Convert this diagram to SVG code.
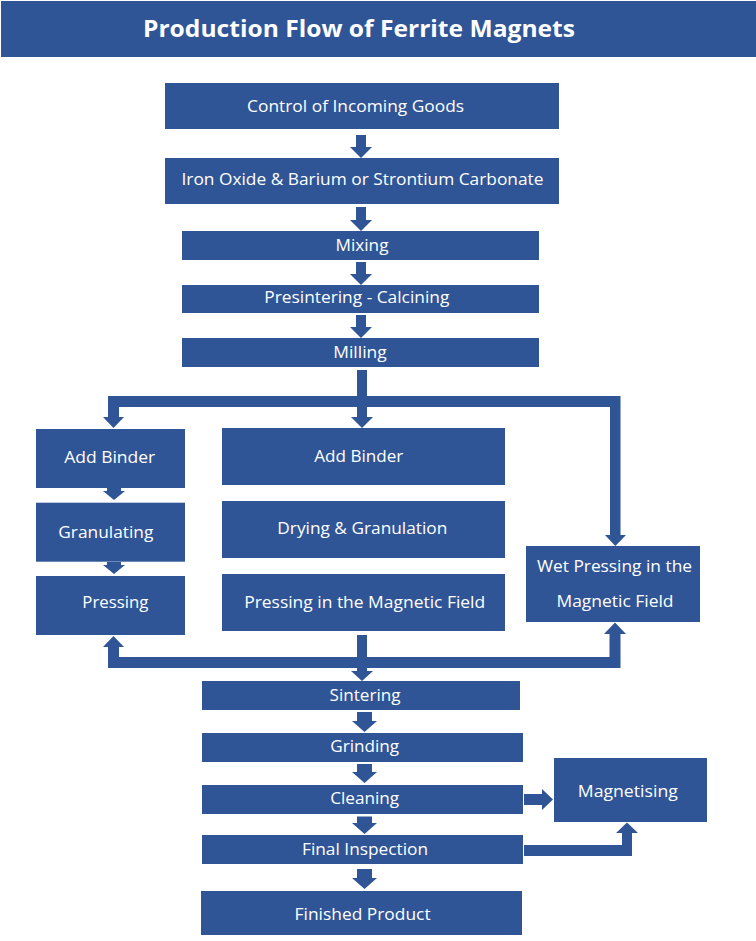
<svg xmlns="http://www.w3.org/2000/svg" width="756" height="941" viewBox="0 0 756 941">
<style>
.box{fill:#2F5597}
.con{fill:#2F5597}
.t{fill:#ffffff;font-family:"Open Sans","Noto Sans","Liberation Sans",sans-serif;font-size:17px;text-anchor:middle}
.title{fill:#ffffff;font-family:"Open Sans","Noto Sans","Liberation Sans",sans-serif;font-size:24px;font-weight:bold;text-anchor:middle}
</style>
<rect x="0" y="0" width="756" height="941" fill="#ffffff"/>
<g id="title">
<rect class="box" x="1" y="1" width="755" height="56"/>
<text class="title" x="359" y="36.5" textLength="432" lengthAdjust="spacingAndGlyphs">Production Flow of Ferrite Magnets</text>
</g>
<g id="connectors">
<polygon class="con" points="356,135 366,135 366,147 372,147 361,158 350,147 356,147"/>
<polygon class="con" points="356,207 366,207 366,220 372,220 361,231 350,220 356,220"/>
<polygon class="con" points="356,262 366,262 366,274 372,274 361,285 350,274 356,274"/>
<polygon class="con" points="356,315 366,315 366,327 372,327 361,338 350,327 356,327"/>
<polygon class="con" points="357,370 367,370 367,417 373,417 362,428 351,417 357,417"/>
<rect class="con" x="108" y="396" width="512.5" height="11"/>
<polygon class="con" points="108,407 119,407 119,417 124,417 113.5,428 103,417 108,417"/>
<polygon class="con" points="610,407 620.5,407 620.5,535 626,535 615.3,546 605,535 610,535"/>
<polygon class="con" points="107,488 121,488 121,491 125,491 114,500 103,491 107,491"/>
<polygon class="con" points="107,562 121,562 121,565 125,565 114,574 103,565 107,565"/>
<polygon class="con" points="357,635 367,635 367,671 373,671 362,681 351,671 357,671"/>
<rect class="con" x="108" y="657" width="512.5" height="11"/>
<polygon class="con" points="108,657 119,657 119,647 124,647 113.5,636 103,647 108,647"/>
<polygon class="con" points="609.5,657 620.5,657 620.5,634 626,634 615,622.5 604,634 609.5,634"/>
<polygon class="con" points="357,712 372,712 372,721 377,721 364.5,732 352,721 357,721"/>
<polygon class="con" points="357,764 372,764 372,772 377,772 364.5,783 352,772 357,772"/>
<polygon class="con" points="357,816.5 372,816.5 372,823 377,823 364.5,834 352,823 357,823"/>
<polygon class="con" points="357,869 372,869 372,878 377,878 364.5,889 352,878 357,878"/>
<polygon class="con" points="524,794 542,794 542,789 553,799.5 542,810 542,805 524,805"/>
<polygon class="con" points="524,845 622,845 622,833 616,833 627,822.5 638,833 632,833 632,856 524,856"/>
</g>
<g id="n1"><rect class="box" x="165" y="83" width="394" height="46"/><text class="t" x="355.6" y="111.7" textLength="217" lengthAdjust="spacingAndGlyphs">Control of Incoming Goods</text></g>
<g id="n2"><rect class="box" x="165" y="158" width="394" height="46"/><text class="t" x="362.5" y="185" textLength="362" lengthAdjust="spacingAndGlyphs">Iron Oxide &amp; Barium or Strontium Carbonate</text></g>
<g id="n3"><rect class="box" x="182" y="231" width="357" height="29"/><text class="t" x="362" y="251" textLength="53" lengthAdjust="spacingAndGlyphs">Mixing</text></g>
<g id="n4"><rect class="box" x="182" y="285" width="357" height="28"/><text class="t" x="356.8" y="303.3" textLength="185" lengthAdjust="spacingAndGlyphs">Presintering - Calcining</text></g>
<g id="n5"><rect class="box" x="182" y="338" width="357" height="29"/><text class="t" x="360" y="358.3" textLength="53.4" lengthAdjust="spacingAndGlyphs">Milling</text></g>
<g id="n6"><rect class="box" x="36" y="429" width="149" height="59"/><text class="t" x="109.7" y="462.7" textLength="91" lengthAdjust="spacingAndGlyphs">Add Binder</text></g>
<g id="n7"><rect class="box" x="36" y="502.7" width="149" height="59"/><text class="t" x="105.8" y="538.3" textLength="95" lengthAdjust="spacingAndGlyphs">Granulating</text></g>
<g id="n8"><rect class="box" x="36" y="576" width="149" height="59"/><text class="t" x="115.3" y="608.3" textLength="66" lengthAdjust="spacingAndGlyphs">Pressing</text></g>
<g id="n9"><rect class="box" x="222" y="428" width="283" height="57"/><text class="t" x="358.8" y="461.7" textLength="89" lengthAdjust="spacingAndGlyphs">Add Binder</text></g>
<g id="n10"><rect class="box" x="222" y="501" width="283" height="57"/><text class="t" x="362.3" y="534" textLength="170" lengthAdjust="spacingAndGlyphs">Drying &amp; Granulation</text></g>
<g id="n11"><rect class="box" x="222" y="574" width="283" height="57"/><text class="t" x="364.7" y="607.7" textLength="241" lengthAdjust="spacingAndGlyphs">Pressing in the Magnetic Field</text></g>
<g id="n12"><rect class="box" x="526" y="546" width="174" height="76"/><text class="t" x="614.5" y="571.7" textLength="155" lengthAdjust="spacingAndGlyphs">Wet Pressing in the</text><text class="t" x="615" y="606.7" textLength="117" lengthAdjust="spacingAndGlyphs">Magnetic Field</text></g>
<g id="n13"><rect class="box" x="202" y="681" width="318" height="29"/><text class="t" x="365" y="700.7" textLength="71" lengthAdjust="spacingAndGlyphs">Sintering</text></g>
<g id="n14"><rect class="box" x="202" y="733" width="321" height="29"/><text class="t" x="364.7" y="752.3" textLength="69" lengthAdjust="spacingAndGlyphs">Grinding</text></g>
<g id="n15"><rect class="box" x="202" y="785" width="321" height="29"/><text class="t" x="364.7" y="804" textLength="69" lengthAdjust="spacingAndGlyphs">Cleaning</text></g>
<g id="n16"><rect class="box" x="202" y="835" width="321" height="29"/><text class="t" x="365" y="855" textLength="126" lengthAdjust="spacingAndGlyphs">Final Inspection</text></g>
<g id="n17"><rect class="box" x="201" y="891" width="321" height="44"/><text class="t" x="362.6" y="920" textLength="136" lengthAdjust="spacingAndGlyphs">Finished Product</text></g>
<g id="n18"><rect class="box" x="554" y="758" width="153" height="64"/><text class="t" x="627.8" y="797.3" textLength="100" lengthAdjust="spacingAndGlyphs">Magnetising</text></g>
</svg>
